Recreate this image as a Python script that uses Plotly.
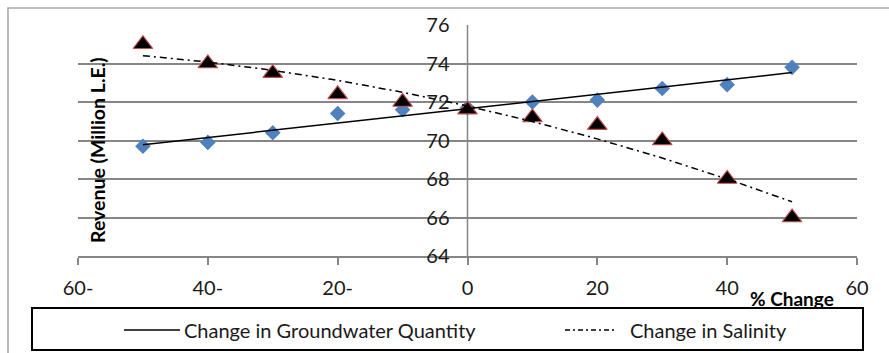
import numpy as np
import plotly.graph_objects as go

# % change applied to each driver
pct_change = [-50, -40, -30, -20, -10, 0, 10, 20, 30, 40, 50]
# revenue (million L.E.) under each scenario
rev_groundwater = [69.7, 69.9, 70.4, 71.4, 71.6, 71.7, 72.0, 72.1, 72.7, 72.9, 73.8]
rev_salinity = [75.0, 74.0, 73.5, 72.4, 72.0, 71.6, 71.2, 70.8, 70.0, 68.0, 66.0]

x_ticks = [-60, -40, -20, 0, 20, 40, 60]
x_tick_text = ["60-", "40-", "20-", "0", "20", "40", "60"]
y_ticks = [64, 66, 68, 70, 72, 74, 76]

series_names = ["Change in Groundwater Quantity", "Change in Salinity"]

FONT = "Lato"
W, H = 889, 353
ML, MR, MT, MB = 78, 32, 25, 97
PW, PH = W - ML - MR, H - MT - MB


def px(x):
    return (x - ML) / PW


def py(y):
    return (H - MB - y) / PH


# trend lines: linear for groundwater, quadratic for salinity
xs = np.array(pct_change, dtype=float)
xf = np.linspace(xs.min(), xs.max(), 101)
fit_gw = np.polyval(np.polyfit(xs, rev_groundwater, 1), xf)
fit_sal = np.polyval(np.polyfit(xs, rev_salinity, 2), xf)

fig = go.Figure()
fig.add_trace(go.Scatter(
    x=pct_change, y=rev_groundwater, mode="markers", showlegend=False,
    marker=dict(symbol="diamond", size=12, color="#4F81BD",
                line=dict(width=0)),
))
fig.add_trace(go.Scatter(
    x=pct_change, y=rev_salinity, mode="markers", showlegend=False,
    marker=dict(symbol="triangle-up", size=17, color="#000000",
                line=dict(width=1.2, color="#C0504D")),
))
fig.add_trace(go.Scatter(
    x=xf, y=fit_gw, mode="lines", name=series_names[0], showlegend=False,
    line=dict(color="#000000", width=1.5),
))
fig.add_trace(go.Scatter(
    x=xf, y=fit_sal, mode="lines", name=series_names[1], showlegend=False,
    line=dict(color="#000000", width=1.5, dash="7px,4px,2px,4px"),
))

grid = "#868686"
fig.update_layout(
    width=W, height=H,
    margin=dict(l=ML, r=MR, t=MT, b=MB),
    paper_bgcolor="white", plot_bgcolor="white",
    font=dict(family=FONT, color="#1a1a1a"),
    xaxis=dict(
        range=[-60, 60], tickvals=x_ticks, ticktext=x_tick_text,
        showgrid=False, zeroline=False,
        showline=True, linecolor=grid, linewidth=1.5,
        ticks="outside", ticklen=7, tickwidth=1.5, tickcolor=grid,
        ticklabelstandoff=6,
        tickfont=dict(size=20, color="#1a1a1a", family=FONT),
    ),
    yaxis=dict(
        range=[64, 76], tickvals=y_ticks,
        showgrid=True, gridcolor=grid, gridwidth=1.6,
        zeroline=False, showline=False,
        anchor="free", position=0.5,
        ticks="", ticklabelstandoff=18,
        tickfont=dict(size=20, color="#1a1a1a", family=FONT),
    ),
    shapes=[
        # vertical axis line through x = 0
        dict(type="line", xref="x", yref="y", x0=0, x1=0, y0=64, y1=76,
             line=dict(color=grid, width=1.5), layer="below"),
        # chart area border
        dict(type="rect", xref="paper", yref="paper",
             x0=px(8), x1=px(900), y0=py(362), y1=py(8),
             line=dict(color="#a6a6a6", width=1.5)),
        # legend box
        dict(type="rect", xref="paper", yref="paper",
             x0=px(32), x1=px(863), y0=py(350), y1=py(308),
             line=dict(color="#000000", width=2)),
        dict(type="line", xref="paper", yref="paper",
             x0=px(124), x1=px(180), y0=py(330), y1=py(330),
             line=dict(color="#000000", width=1.5)),
        dict(type="line", xref="paper", yref="paper",
             x0=px(565), x1=px(615), y0=py(330), y1=py(330),
             line=dict(color="#000000", width=1.5, dash="5px,3px,2px,3px")),
    ],
    annotations=[
        dict(text="Revenue (Million L.E.)", textangle=-90, showarrow=False,
             xref="paper", yref="paper", x=px(97), y=py(150),
             xanchor="center", yanchor="middle",
             font=dict(size=19.5, family=FONT, color="#000000", weight="bold")),
        dict(text="% Change", showarrow=False,
             xref="paper", yref="paper", x=px(748), y=py(298),
             xanchor="left", yanchor="middle",
             font=dict(size=19, family=FONT, color="#000000", weight="bold")),
        dict(text=series_names[0], showarrow=False,
             xref="paper", yref="paper", x=px(182), y=py(330),
             xanchor="left", yanchor="middle",
             font=dict(size=20, family=FONT, color="#1a1a1a")),
        dict(text=series_names[1], showarrow=False,
             xref="paper", yref="paper", x=px(628), y=py(330),
             xanchor="left", yanchor="middle",
             font=dict(size=20, family=FONT, color="#1a1a1a")),
    ],
)

fig.write_html("out.html")
